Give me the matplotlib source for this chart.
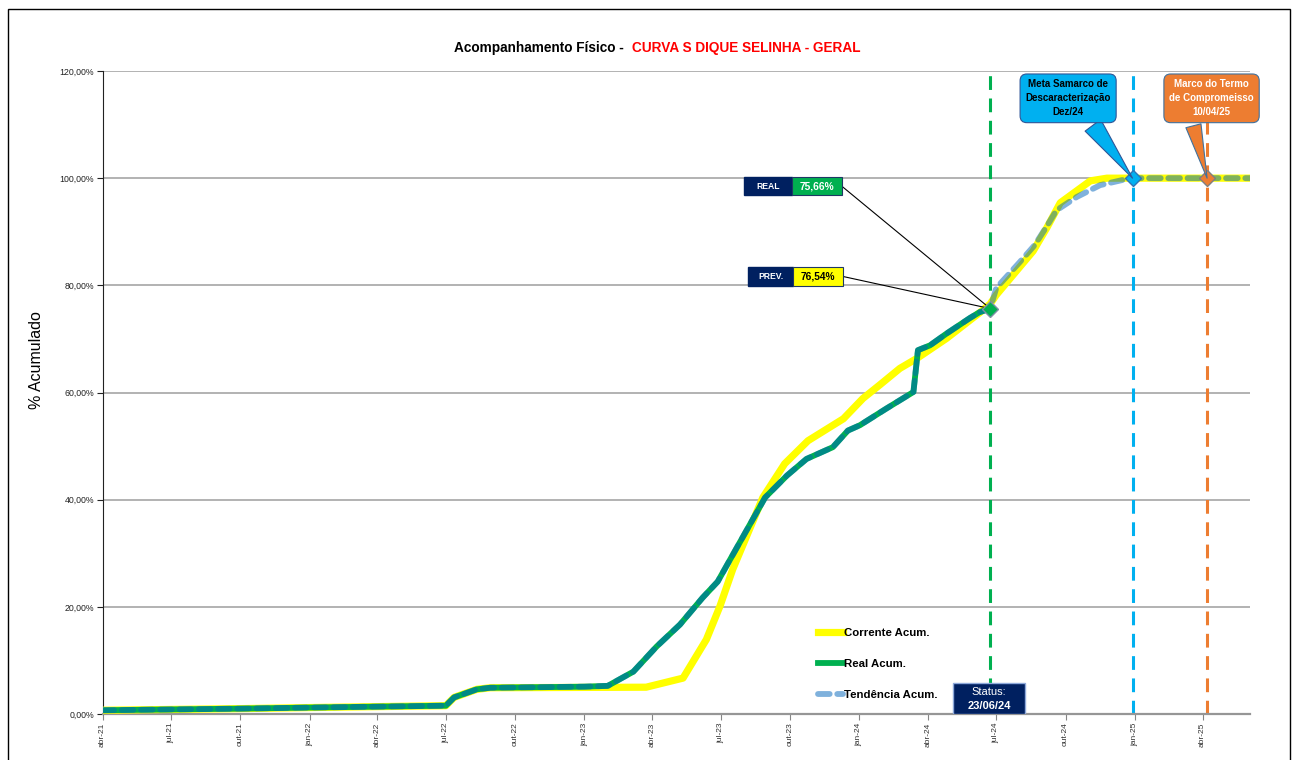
import matplotlib
matplotlib.use("Agg")
import matplotlib.pyplot as plt
from matplotlib.patches import Rectangle
from matplotlib.lines import Line2D
import pandas as pd

FONT = ["Liberation Sans Narrow", "Liberation Sans", "DejaVu Sans"]
plt.rcParams["font.family"] = FONT

# --- dados ---
real_datas = ["2021-04-01", "2021-10-01", "2022-01-01", "2022-07-01", "2022-07-12",
              "2022-08-11", "2022-08-29", "2023-01-01", "2023-02-01", "2023-03-07",
              "2023-04-07", "2023-05-08", "2023-06-07", "2023-06-27", "2023-08-29",
              "2023-09-27", "2023-10-23", "2023-11-27", "2023-12-17", "2024-01-02",
              "2024-02-06", "2024-03-13", "2024-03-19", "2024-04-04", "2024-04-26",
              "2024-05-27", "2024-06-09", "2024-06-23"]
real_valores = [0.70, 1.00, 1.20, 1.55, 3.1, 4.6, 4.9, 5.1, 5.25, 7.9,
                12.6, 16.7, 21.7, 24.7, 40.4, 44.5, 47.6, 49.8, 52.9, 53.9,
                57.0, 60.1, 67.9, 68.8, 71.0, 73.9, 75.0, 75.66]

corrente_datas = ["2021-04-01", "2021-10-01", "2022-01-01", "2022-07-01", "2022-07-12",
                  "2022-08-11", "2022-08-29", "2023-03-24", "2023-05-12", "2023-06-12",
                  "2023-06-30", "2023-07-17", "2023-08-26", "2023-09-24", "2023-10-25",
                  "2023-12-11", "2024-01-06", "2024-01-29", "2024-02-24", "2024-03-18",
                  "2024-04-26", "2024-06-09", "2024-06-23", "2024-07-01", "2024-08-19",
                  "2024-09-06", "2024-09-24", "2024-11-03", "2024-11-25", "2025-06-03"]
corrente_valores = [0.70, 1.00, 1.20, 1.55, 3.1, 4.6, 4.9, 5.0, 6.7, 13.9,
                    20.1, 27.0, 40.4, 46.7, 51.0, 55.1, 58.9, 61.5, 64.5, 66.4,
                    70.1, 74.9, 76.54, 78.2, 86.4, 90.7, 95.4, 99.5, 100.0, 100.0]

# tendencia = real ate o status + projecao
projecao_datas = ["2024-07-01", "2024-08-01", "2024-08-21", "2024-09-06", "2024-09-19",
                  "2024-10-16", "2024-11-16", "2024-12-17", "2024-12-31", "2025-06-03"]
projecao_valores = [79.5, 84.3, 87.5, 91.0, 94.0, 96.5, 98.7, 99.7, 100.0, 100.0]

status_data = "2024-06-23"
real_status = 75.66
prev_status = 76.54
meta_data = "2024-12-29"
termo_data = "2025-04-07"

tick_datas = pd.date_range("2021-04-01", "2025-04-01", freq="3MS")
tick_labels = ["abr-21", "jul-21", "out-21", "jan-22", "abr-22", "jul-22", "out-22",
               "jan-23", "abr-23", "jul-23", "out-23", "jan-24", "abr-24", "jul-24",
               "out-24", "jan-25", "abr-25"]
y_ticks = [0, 20, 40, 60, 80, 100, 120]
y_labels = ["0,00%", "20,00%", "40,00%", "60,00%", "80,00%", "100,00%", "120,00%"]

SANS = ["Liberation Sans", "DejaVu Sans"]
W, H = 1297, 760
fig = plt.figure(figsize=(W / 100, H / 100), dpi=100)
ax = fig.add_axes([102.5 / W, 1 - 714 / H, 1147.5 / W, 643 / H])

xr = pd.to_datetime(real_datas)
xc = pd.to_datetime(corrente_datas)
xt = xr.append(pd.to_datetime(projecao_datas))
yt = real_valores + projecao_valores

l_corr, = ax.plot(xc, corrente_valores, color="#FFFF00", lw=5.2, zorder=3,
                  solid_joinstyle="round", label="Corrente Acum.")
l_real, = ax.plot(xr, real_valores, color="#00B050", lw=4.2, zorder=4,
                  solid_joinstyle="round", label="Real Acum.")
l_tend, = ax.plot(xt, yt, color="#0065BB", alpha=0.5, lw=4.2, zorder=5,
                  dashes=(2.0, 1.3), dash_capstyle="round", label="Tendência Acum.")

# linhas verticais de marcos
sd = pd.Timestamp(status_data)
md = pd.Timestamp(meta_data)
td = pd.Timestamp(termo_data)
for d, c in [(sd, "#00B050"), (md, "#00B0F0"), (td, "#ED7D31")]:
    ax.axvline(d, color=c, lw=2.2, dashes=(4.5, 2.8), zorder=2)

ax.plot(sd, real_status, marker="D", ms=8, mfc="#00B050", mec="#7F8FA6", mew=1, zorder=7)
ax.plot(md, 100, marker="D", ms=8, mfc="#00B0F0", mec="#2E75B6", mew=1, zorder=7)
ax.plot(td, 100, marker="D", ms=8, mfc="#ED7D31", mec="#7F7F7F", mew=1, zorder=7)

ax.set_xlim(pd.Timestamp("2021-04-01"), pd.Timestamp("2025-06-03"))
ax.set_ylim(0, 120)
ax.set_xticks(tick_datas)
ax.set_xticklabels(tick_labels, rotation=90, fontsize=6, color="#333333", family=SANS)
ax.set_yticks(y_ticks)
ax.set_yticklabels(y_labels, fontsize=6.3, color="#222222", family=SANS)
ax.tick_params(axis="x", length=4, color="#868686", pad=2)
ax.tick_params(axis="y", length=4, color="#222222", pad=2)
ax.yaxis.grid(True, color="#A6A6A6", lw=1.2)
ax.set_axisbelow(True)
for s in ["top", "right"]:
    ax.spines[s].set_visible(False)
ax.spines["left"].set_color("#222222")
ax.spines["bottom"].set_color("#969696")
ax.spines["bottom"].set_linewidth(1.6)

ax.set_ylabel("% Acumulado", fontsize=11.5, family=SANS)
ax.yaxis.set_label_coords(-0.051, 0.55)

# titulo em duas cores
fig.text(627 / W, 1 - 48 / H, "Acompanhamento Físico - ", ha="right", va="center",
         fontsize=9.8, fontweight="bold", color="black", family=SANS)
fig.text(632 / W, 1 - 48 / H, "CURVA S DIQUE SELINHA - GERAL", ha="left", va="center",
         fontsize=9.8, fontweight="bold", color="#FF0000", family=SANS)

# caixas REAL / PREV
def caixa(x0, x1, x2, y0, h, txt, fc, val, tc):
    ax.add_patch(Rectangle((x0, y0), x1 - x0, h, transform=ax.transAxes,
                           fc="#002060", ec="#002060", zorder=8))
    ax.add_patch(Rectangle((x1, y0), x2 - x1, h, transform=ax.transAxes,
                           fc=fc, ec="#1F3864", lw=0.8, zorder=8))
    ax.text((x0 + x1) / 2, y0 + h / 2, txt, transform=ax.transAxes, ha="center",
            va="center", color="white", fontsize=6.2, fontweight="bold", zorder=9)
    ax.text((x1 + x2) / 2, y0 + h / 2, val, transform=ax.transAxes, ha="center",
            va="center", color=tc, fontsize=7.3, fontweight="bold", zorder=9)

caixa(0.5590, 0.6011, 0.6444, 0.8067, 0.028, "REAL", "#00B050",
      f"{real_status:.2f}%".replace(".", ","), "white")
caixa(0.5627, 0.6016, 0.6449, 0.6661, 0.0286, "PREV.", "#FFFF00",
      f"{prev_status:.2f}%".replace(".", ","), "black")
ax.annotate("", xy=(sd, real_status), xytext=(0.6444, 0.8207), textcoords="axes fraction",
            arrowprops=dict(arrowstyle="-", color="black", lw=0.8, shrinkA=0, shrinkB=0),
            zorder=6)
ax.annotate("", xy=(sd, real_status), xytext=(0.6449, 0.6806), textcoords="axes fraction",
            arrowprops=dict(arrowstyle="-", color="black", lw=0.8, shrinkA=0, shrinkB=0),
            zorder=6)

# caixa de status
ax.add_patch(Rectangle((0.7411, 0.0), 0.0631, 0.048, transform=ax.transAxes,
                       fc="#002060", ec="#8EA9DB", lw=1, zorder=8))
ax.text(0.7726, 0.034, "Status:", transform=ax.transAxes, ha="center", va="center",
        color="white", fontsize=8, zorder=9, family=SANS)
ax.text(0.7726, 0.013, "23/06/24", transform=ax.transAxes, ha="center", va="center",
        color="white", fontsize=8, fontweight="bold", zorder=9, family=SANS)

# baloes
ax.annotate("Meta Samarco de\nDescaracterização\nDez/24", xy=(md, 100), xycoords="data",
            xytext=(0.8415, 0.9575), textcoords="axes fraction", ha="center", va="center",
            fontsize=7, fontweight="bold", color="black", zorder=9, linespacing=1.5,
            family=SANS,
            bbox=dict(boxstyle="round,pad=0.55,rounding_size=0.7", fc="#00B0F0",
                      ec="#2F5597", lw=0.8),
            arrowprops=dict(arrowstyle="wedge,tail_width=2.0", fc="#00B0F0",
                            ec="#2F5597", lw=0.8, relpos=(0.72, 0.0), shrinkB=0))
ax.annotate("Marco do Termo\nde Compromeisso\n10/04/25", xy=(td, 100), xycoords="data",
            xytext=(0.9665, 0.9575), textcoords="axes fraction", ha="center", va="center",
            fontsize=7, fontweight="bold", color="white", zorder=9, linespacing=1.5,
            family=SANS,
            bbox=dict(boxstyle="round,pad=0.55,rounding_size=0.7", fc="#ED7D31",
                      ec="#41719C", lw=0.8),
            arrowprops=dict(arrowstyle="wedge,tail_width=1.6", fc="#ED7D31",
                            ec="#41719C", lw=0.8, relpos=(0.26, 0.0), shrinkB=0))

# legenda
tend_handle = Line2D([], [], color="#0065BB", alpha=0.5, lw=4.2, dashes=(2.0, 1.3),
                     dash_capstyle="round")
ax.legend([l_corr, l_real, tend_handle], ["Corrente Acum.", "Real Acum.", "Tendência Acum."],
          loc="upper left", bbox_to_anchor=(0.6235, 0.1335), frameon=False,
          borderpad=0, borderaxespad=0, handlelength=2.2, handletextpad=0.1,
          labelspacing=1.85, prop=dict(size=8.2, weight="bold", family=SANS))

# moldura externa
fig.add_artist(Rectangle((8 / W, -0.02), 1282 / W, 1.008, transform=fig.transFigure,
                         fill=False, ec="black", lw=1))

fig.savefig("out.png", dpi=100)
